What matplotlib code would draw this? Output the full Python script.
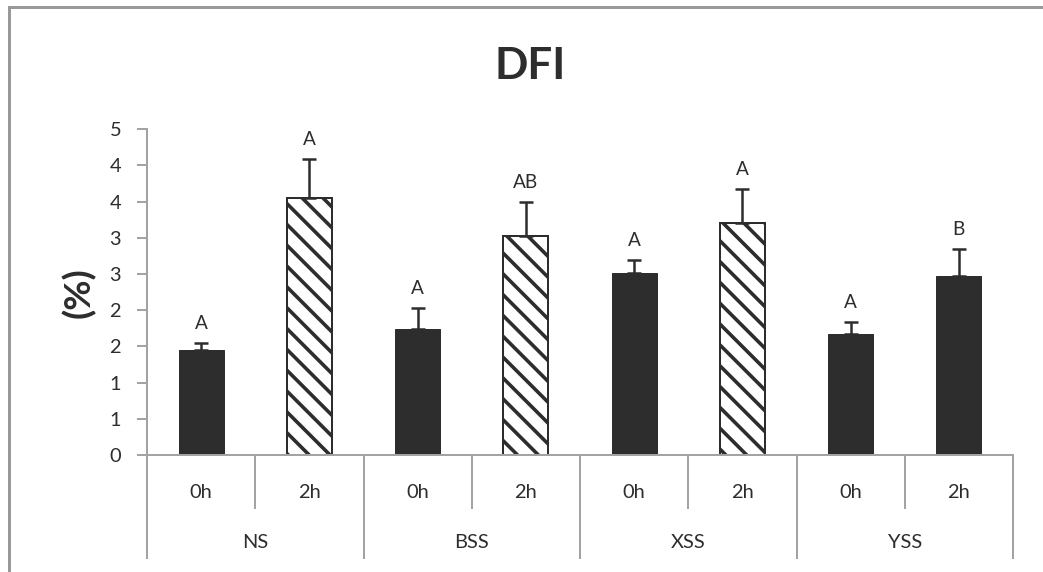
import matplotlib
matplotlib.use("Agg")
import matplotlib.pyplot as plt
import matplotlib.transforms as mtrans
import numpy as np
from matplotlib.patches import Rectangle

# data
groups = ["NS", "BSS", "XSS", "YSS"]
times = ["0h", "2h"]
means = [1.45, 3.55, 1.74, 3.02, 2.51, 3.21, 1.67, 2.48]
errors = [0.10, 0.54, 0.29, 0.48, 0.18, 0.47, 0.17, 0.36]
letters = ["A", "A", "A", "AB", "A", "A", "A", "B"]
hatched = [False, True, False, True, False, True, False, False]
ytick_vals = [0, 0.5, 1, 1.5, 2, 2.5, 3, 3.5, 4, 4.5]
ytick_labels = ["0", "1", "1", "2", "2", "3", "3", "4", "4", "5"]

DPI = 125
PT = 72 / DPI  # points per pixel
DARK = "#2d2d2d"
GRAY = "#a3a3a3"

plt.rcParams["font.family"] = ["Lato", "DejaVu Sans"]
plt.rcParams["hatch.linewidth"] = 3.6 * PT

fig = plt.figure(figsize=(1043 / DPI, 572 / DPI), dpi=DPI)
ax = fig.add_axes([147 / 1043, 1 - 455 / 572, 866 / 1043, (455 - 129.3) / 572])

x = np.arange(len(means))
for i in range(len(means)):
    if hatched[i]:
        ax.bar(x[i], means[i], width=0.415, color="white", edgecolor=DARK,
               hatch="\\\\", linewidth=2 * PT, zorder=2)
    else:
        ax.bar(x[i], means[i], width=0.415, color=DARK, edgecolor=DARK,
               linewidth=1 * PT, zorder=2)

ax.errorbar(x, means, yerr=[np.zeros(len(errors)), errors], fmt="none",
            ecolor=DARK, elinewidth=2.5 * PT, capsize=7 * PT, capthick=2.5 * PT, zorder=3)

for i in range(len(means)):
    ax.annotate(letters[i], (x[i], means[i] + errors[i]), xytext=(0, 14 * PT),
                textcoords="offset points", ha="center", va="baseline",
                fontsize=19 * PT, color=DARK)

ax.set_xlim(-0.5, len(means) - 0.5)
ax.set_ylim(0, 4.5)
ax.set_yticks(ytick_vals)
ax.set_yticklabels(ytick_labels)
ax.set_xticks([])
ax.tick_params(axis="y", length=10 * PT, width=2 * PT, color=GRAY, pad=16 * PT,
               labelsize=20 * PT, labelcolor=DARK)
for side in ["top", "right"]:
    ax.spines[side].set_visible(False)
for side in ["left", "bottom"]:
    ax.spines[side].set_color(GRAY)
    ax.spines[side].set_linewidth(2 * PT)

# two-level category axis
ax_h = 455 - 129.3
trans = mtrans.blended_transform_factory(ax.transData, ax.transAxes)
short_y = -53 / ax_h
long_y = -103 / ax_h
for i in range(len(means) + 1):
    xb = i - 0.5
    yb = long_y if i % 2 == 0 else short_y
    ax.plot([xb, xb], [0, yb], transform=trans, color=GRAY, lw=2 * PT, clip_on=False)
for i in range(len(means)):
    ax.text(x[i], -37 / ax_h, times[i % 2], transform=trans, ha="center", va="center",
            fontsize=20 * PT, color=DARK)
for g, name in enumerate(groups):
    ax.text(2 * g + 0.5, -88 / ax_h, name, transform=trans, ha="center", va="center",
            fontsize=20 * PT, color=DARK)

ax.set_ylabel("(%)", fontsize=37 * PT, fontweight="bold", color=DARK, labelpad=14 * PT)
fig.text(530 / 1043, 1 - 66 / 572, "DFI", ha="center", va="center",
         fontsize=44 * PT, fontweight="bold", color=DARK)

# outer chart border
fig.patches.append(Rectangle((8.5 / 1043, -0.05), 1.2, 1 - 6.5 / 572 + 0.05,
                             transform=fig.transFigure, fill=False,
                             edgecolor="#999999", linewidth=3 * PT))

fig.savefig("out.png", dpi=DPI)
